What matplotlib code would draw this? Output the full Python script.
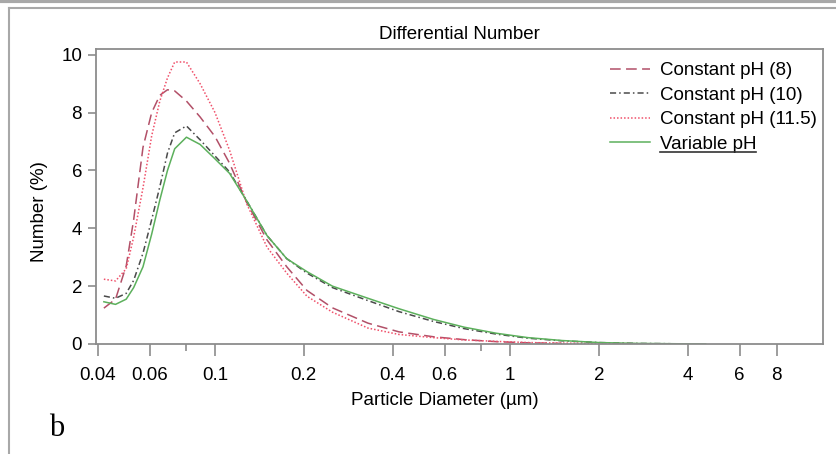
import numpy as np
import matplotlib
matplotlib.use('Agg')
from matplotlib import pyplot as plt
from matplotlib.lines import Line2D
from matplotlib.ticker import FixedLocator, NullFormatter

plt.rcParams['font.family'] = ['Liberation Sans', 'DejaVu Sans']

# 粒径 (µm)
diameter = [0.042, 0.046, 0.050, 0.053, 0.057, 0.061, 0.065, 0.069, 0.073, 0.080,
            0.089, 0.100, 0.112, 0.128, 0.150, 0.175, 0.205, 0.250, 0.330, 0.420,
            0.550, 0.700, 0.900, 1.150, 1.500, 2.000, 2.700, 3.500, 4.600]

ph_8 = [1.24, 1.55, 2.70, 4.30, 6.80, 8.00, 8.60, 8.79, 8.75, 8.40,
        7.85, 7.17, 6.25, 4.90, 3.60, 2.67, 1.85, 1.25, 0.72, 0.42,
        0.25, 0.15, 0.08, 0.04, 0.02, np.nan, np.nan, np.nan, np.nan]
ph_10 = [1.66, 1.58, 1.75, 2.20, 3.14, 4.30, 5.44, 6.60, 7.30, 7.54,
         7.06, 6.50, 5.95, 4.95, 3.75, 2.95, 2.45, 1.95, 1.50, 1.12,
         0.78, 0.53, 0.34, 0.20, 0.11, 0.05, 0.02, 0.01, np.nan]
ph_115 = [2.24, 2.18, 2.60, 3.70, 5.40, 7.20, 8.40, 9.20, 9.75, 9.75,
          9.00, 8.00, 6.70, 4.85, 3.35, 2.45, 1.65, 1.10, 0.55, 0.33,
          0.22, 0.14, 0.09, 0.05, 0.03, 0.02, 0.01, np.nan, np.nan]
ph_var = [1.46, 1.37, 1.55, 1.95, 2.67, 3.80, 4.98, 6.00, 6.75, 7.15,
          6.90, 6.40, 5.90, 4.95, 3.75, 2.95, 2.50, 2.00, 1.58, 1.22,
          0.85, 0.58, 0.37, 0.22, 0.12, 0.05, 0.02, 0.01, 0.00]

labels = ['Constant pH (8)', 'Constant pH (10)', 'Constant pH (11.5)', 'Variable pH']
major_x = [0.04, 0.06, 0.1, 0.2, 0.4, 0.6, 1, 2, 4, 6, 8]
major_x_text = ['0.04', '0.06', '0.1', '0.2', '0.4', '0.6', '1', '2', '4', '6', '8']
minor_x = [0.08, 0.8]

fig = plt.figure(figsize=(8.37, 4.54), dpi=100)
ax = fig.add_axes([0.1147, 0.2423, 0.8686, 0.6498])

ax.plot(diameter, ph_8, color='#b25068', lw=1.1, dashes=(7, 3.5), label=labels[0])
ax.plot(diameter, ph_10, color='#4a4a4a', lw=1.1, dashes=(4, 2, 1, 2), label=labels[1])
ax.plot(diameter, ph_115, color='#f0506a', lw=1.1, dashes=(1, 1.3), label=labels[2])
ax.plot(diameter, ph_var, color='#5cb05c', lw=1.1, label=labels[3])

ax.set_xscale('log')
ax.set_xlim(0.0395, 11.5)
ax.set_ylim(0, 10.2)
ax.xaxis.set_major_locator(FixedLocator(major_x))
ax.set_xticklabels(major_x_text)
ax.xaxis.set_minor_locator(FixedLocator(minor_x))
ax.xaxis.set_minor_formatter(NullFormatter())
ax.set_yticks([0, 2, 4, 6, 8, 10])

for s in ax.spines.values():
    s.set_color('#8c8c8c')
    s.set_linewidth(1.3)
ax.tick_params(axis='both', which='major', width=1.2, color='#8c8c8c', labelsize=13.5)
ax.tick_params(axis='y', which='major', length=6, pad=4)
ax.tick_params(axis='x', which='major', length=8.5, pad=8)
ax.tick_params(axis='x', which='minor', length=5, width=1.2, color='#8c8c8c')

ax.set_xlabel('Particle Diameter (µm)', fontsize=13.5)
ax.set_ylabel('Number (%)', fontsize=13.5)
ax.xaxis.set_label_coords(0.48, -0.162)
ax.yaxis.set_label_coords(-0.066, 0.45)
ax.set_title('Differential Number', fontsize=13.5, pad=7)

leg = ax.legend(loc='upper left', bbox_to_anchor=(610 / 837, 1 - 62 / 454),
                bbox_transform=fig.transFigure, frameon=False, fontsize=13.5,
                handlelength=2.15, handletextpad=0.5, labelspacing=0.4,
                borderpad=0, borderaxespad=0)

fig.text(0.068, 1 - 428 / 454, 'b', fontsize=22, family='Liberation Serif',
         ha='center', va='center')

# 外框
fig.add_artist(Line2D([0, 1], [0.997, 0.997], transform=fig.transFigure,
                      color='#a8a8a8', lw=3))
fig.add_artist(Line2D([9 / 837, 1], [1 - 7.5 / 454, 1 - 7.5 / 454],
                      transform=fig.transFigure, color='#a8a8a8', lw=1.5))
fig.add_artist(Line2D([9 / 837, 9 / 837], [0, 1 - 7.5 / 454],
                      transform=fig.transFigure, color='#a8a8a8', lw=1.5))

# 给 Variable pH 加下划线
fig.canvas.draw()
txt = leg.get_texts()[3]
bb = txt.get_window_extent().transformed(fig.transFigure.inverted())
fig.add_artist(Line2D([bb.x0, bb.x1], [bb.y0 + 0.002, bb.y0 + 0.002],
                      transform=fig.transFigure, color='#333333', lw=1.2))

fig.savefig('out.png', dpi=100)
